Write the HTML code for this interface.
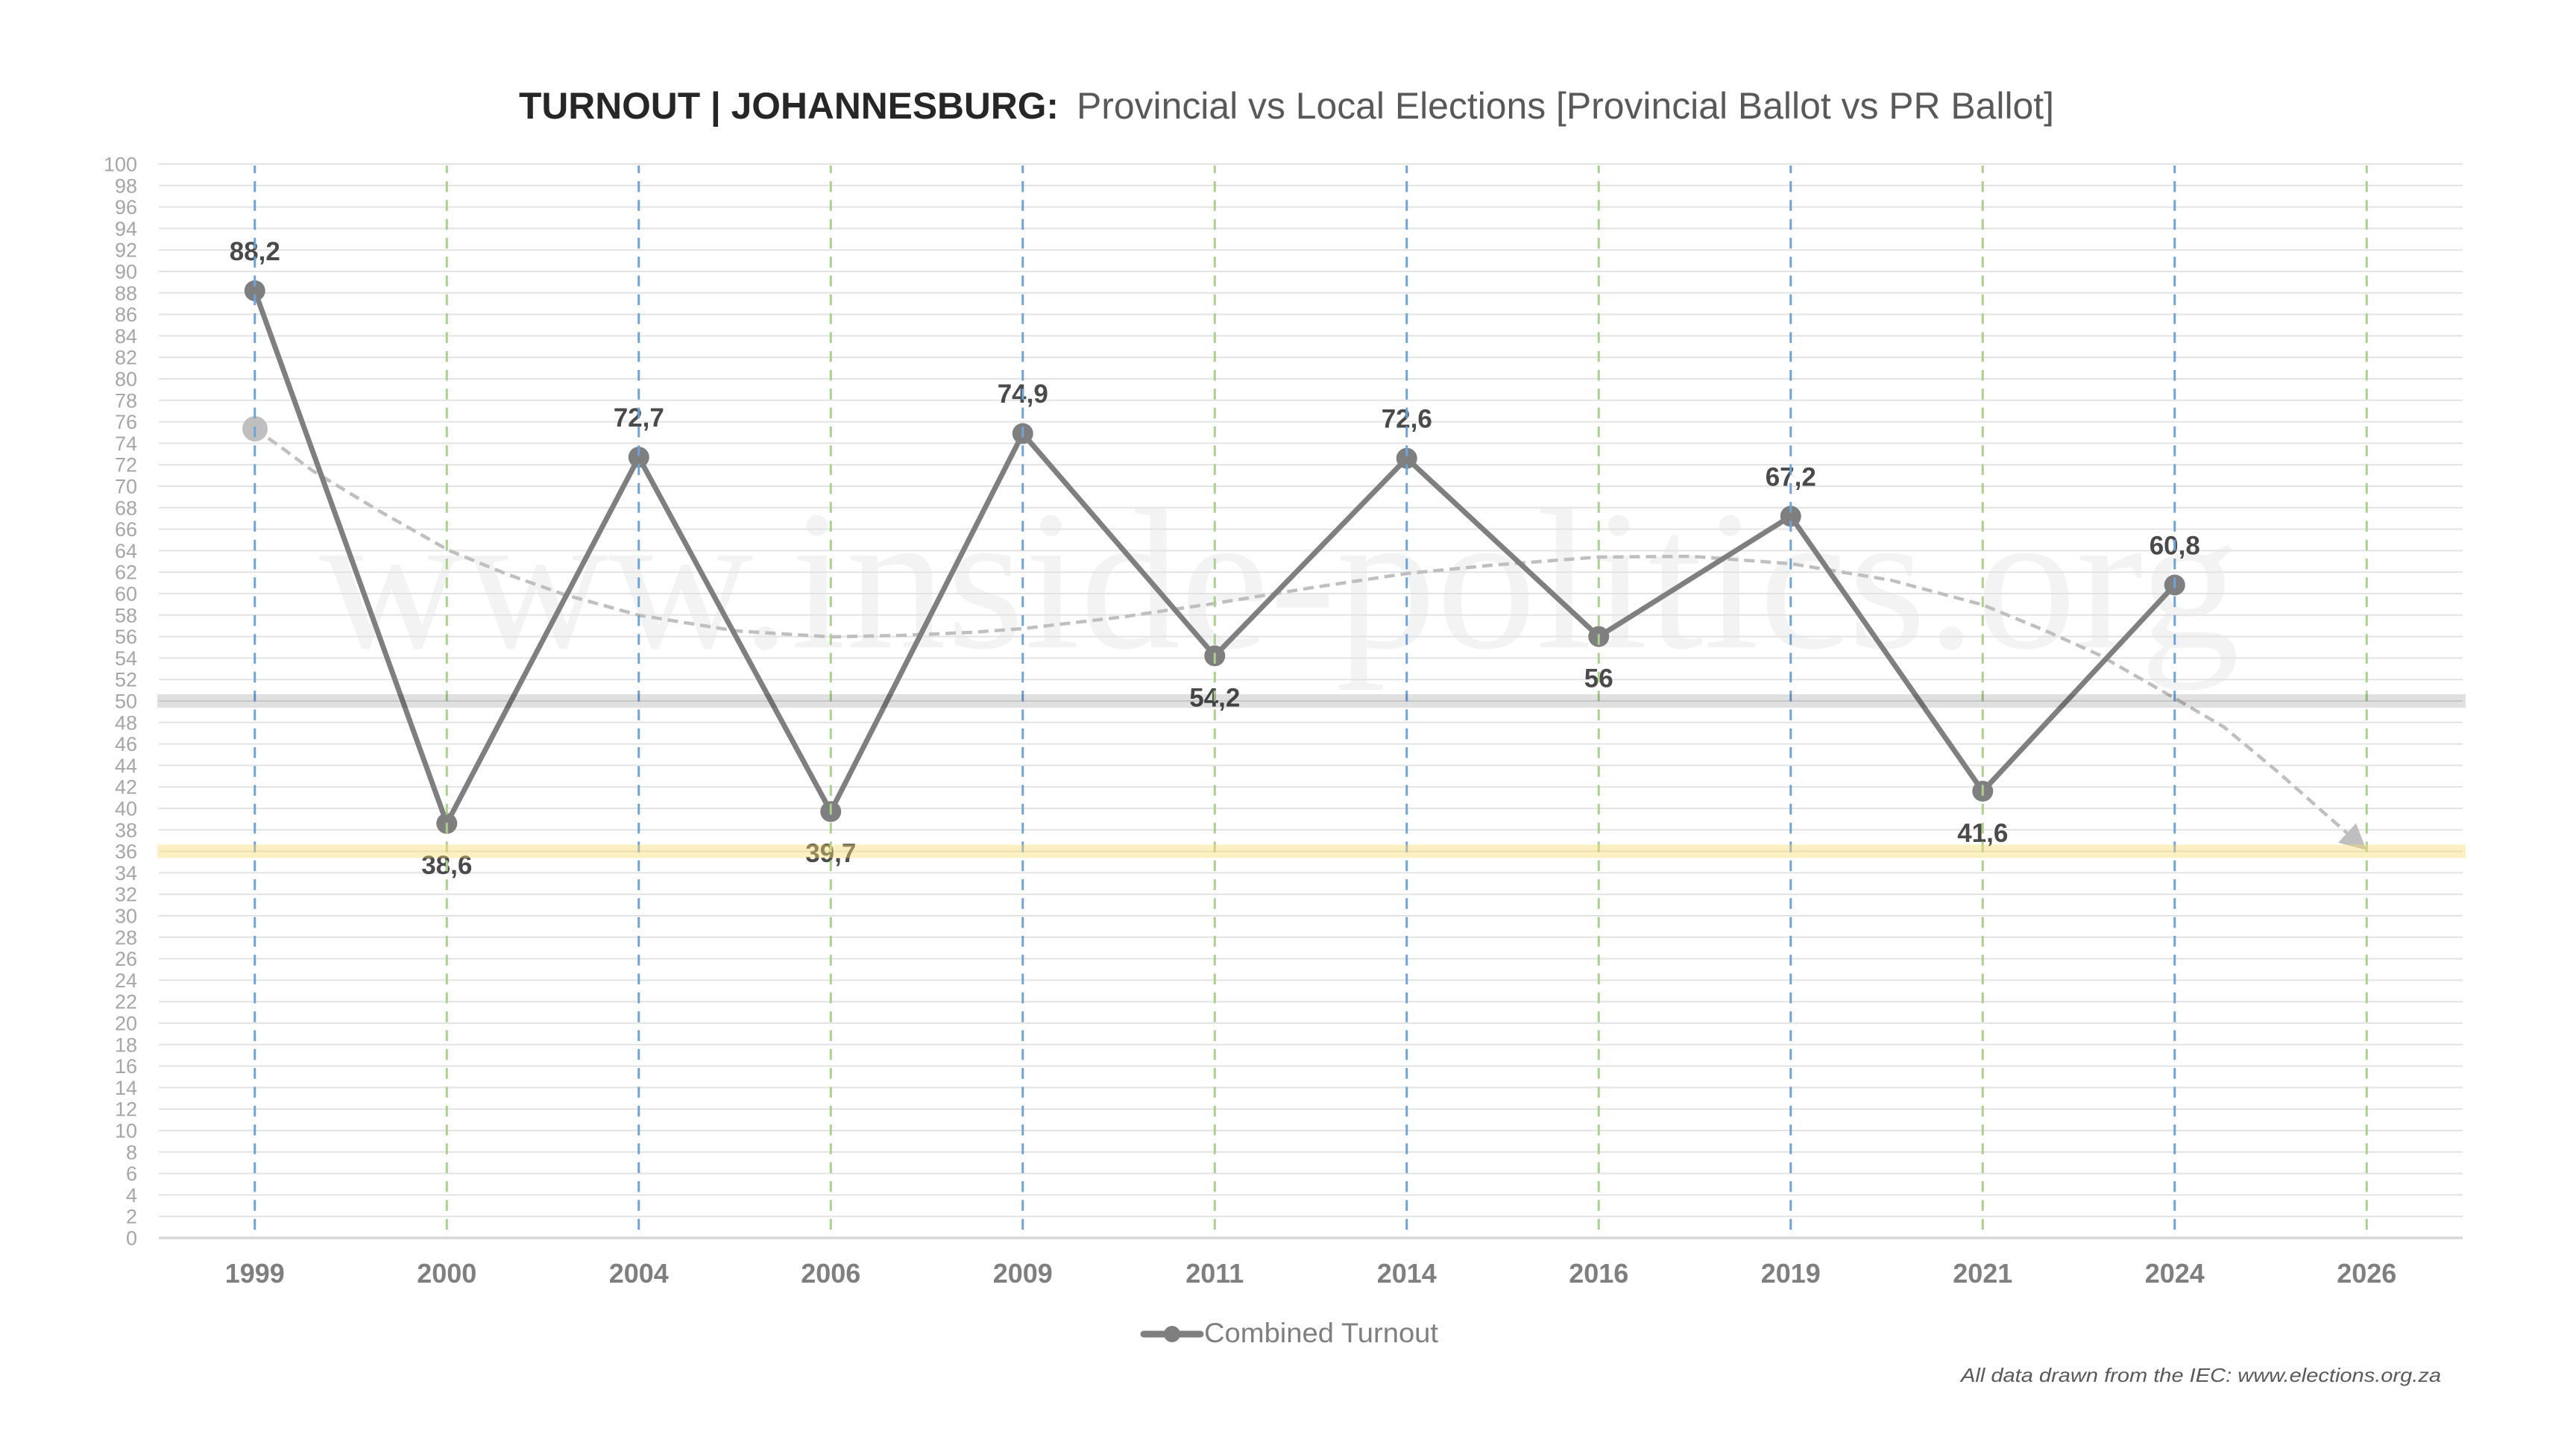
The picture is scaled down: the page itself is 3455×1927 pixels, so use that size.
<!DOCTYPE html>
<html><head><meta charset="utf-8">
<style>
html,body{margin:0;padding:0;background:#fff;}
svg{display:block;}
</style></head><body>
<svg width="3455" height="1927" viewBox="0 0 3455 1927" xmlns="http://www.w3.org/2000/svg">
<rect width="3455" height="1927" fill="#fff"/>

<!-- watermark -->
<text x="428" y="868" font-family="Liberation Serif, serif" font-size="268" fill="#F3F3F3" textLength="2576" lengthAdjust="spacingAndGlyphs">www.inside-politics.org</text>

<!-- title -->
<text x="696" y="159" font-family="Liberation Sans, sans-serif" font-weight="bold" font-size="50" fill="#262626" textLength="724" lengthAdjust="spacingAndGlyphs">TURNOUT | JOHANNESBURG:</text>
<text x="1444" y="159" font-family="Liberation Sans, sans-serif" font-size="50" fill="#595959" textLength="1311" lengthAdjust="spacingAndGlyphs">Provincial vs Local Elections [Provincial Ballot vs PR Ballot]</text>

<!-- gridlines -->
<g stroke="#E3E3E3" stroke-width="2">
<line x1="213" x2="3303" y1="1631.2" y2="1631.2"/>
<line x1="213" x2="3303" y1="1602.4" y2="1602.4"/>
<line x1="213" x2="3303" y1="1573.6" y2="1573.6"/>
<line x1="213" x2="3303" y1="1544.8" y2="1544.8"/>
<line x1="213" x2="3303" y1="1516" y2="1516"/>
<line x1="213" x2="3303" y1="1487.2" y2="1487.2"/>
<line x1="213" x2="3303" y1="1458.4" y2="1458.4"/>
<line x1="213" x2="3303" y1="1429.6" y2="1429.6"/>
<line x1="213" x2="3303" y1="1400.8" y2="1400.8"/>
<line x1="213" x2="3303" y1="1372" y2="1372"/>
<line x1="213" x2="3303" y1="1343.2" y2="1343.2"/>
<line x1="213" x2="3303" y1="1314.4" y2="1314.4"/>
<line x1="213" x2="3303" y1="1285.6" y2="1285.6"/>
<line x1="213" x2="3303" y1="1256.8" y2="1256.8"/>
<line x1="213" x2="3303" y1="1228" y2="1228"/>
<line x1="213" x2="3303" y1="1199.2" y2="1199.2"/>
<line x1="213" x2="3303" y1="1170.4" y2="1170.4"/>
<line x1="213" x2="3303" y1="1141.6" y2="1141.6"/>
<line x1="213" x2="3303" y1="1112.8" y2="1112.8"/>
<line x1="213" x2="3303" y1="1084" y2="1084"/>
<line x1="213" x2="3303" y1="1055.2" y2="1055.2"/>
<line x1="213" x2="3303" y1="1026.4" y2="1026.4"/>
<line x1="213" x2="3303" y1="997.6" y2="997.6"/>
<line x1="213" x2="3303" y1="968.8" y2="968.8"/>
<line x1="213" x2="3303" y1="940" y2="940"/>
<line x1="213" x2="3303" y1="911.2" y2="911.2"/>
<line x1="213" x2="3303" y1="882.4" y2="882.4"/>
<line x1="213" x2="3303" y1="853.6" y2="853.6"/>
<line x1="213" x2="3303" y1="824.8" y2="824.8"/>
<line x1="213" x2="3303" y1="796" y2="796"/>
<line x1="213" x2="3303" y1="767.2" y2="767.2"/>
<line x1="213" x2="3303" y1="738.4" y2="738.4"/>
<line x1="213" x2="3303" y1="709.6" y2="709.6"/>
<line x1="213" x2="3303" y1="680.8" y2="680.8"/>
<line x1="213" x2="3303" y1="652" y2="652"/>
<line x1="213" x2="3303" y1="623.2" y2="623.2"/>
<line x1="213" x2="3303" y1="594.4" y2="594.4"/>
<line x1="213" x2="3303" y1="565.6" y2="565.6"/>
<line x1="213" x2="3303" y1="536.8" y2="536.8"/>
<line x1="213" x2="3303" y1="508" y2="508"/>
<line x1="213" x2="3303" y1="479.2" y2="479.2"/>
<line x1="213" x2="3303" y1="450.4" y2="450.4"/>
<line x1="213" x2="3303" y1="421.6" y2="421.6"/>
<line x1="213" x2="3303" y1="392.8" y2="392.8"/>
<line x1="213" x2="3303" y1="364" y2="364"/>
<line x1="213" x2="3303" y1="335.2" y2="335.2"/>
<line x1="213" x2="3303" y1="306.4" y2="306.4"/>
<line x1="213" x2="3303" y1="277.6" y2="277.6"/>
<line x1="213" x2="3303" y1="248.8" y2="248.8"/>
<line x1="213" x2="3303" y1="220" y2="220"/>
</g>
<line x1="213" x2="3303" y1="1660" y2="1660" stroke="#D9D9D9" stroke-width="3.5"/>

<!-- y tick labels -->
<g font-family="Liberation Sans, sans-serif" font-size="27" fill="#A6A6A6" text-anchor="end">
<text x="184" y="1669.5">0</text>
<text x="184" y="1640.7">2</text>
<text x="184" y="1611.9">4</text>
<text x="184" y="1583.1">6</text>
<text x="184" y="1554.3">8</text>
<text x="184" y="1525.5">10</text>
<text x="184" y="1496.7">12</text>
<text x="184" y="1467.9">14</text>
<text x="184" y="1439.1">16</text>
<text x="184" y="1410.3">18</text>
<text x="184" y="1381.5">20</text>
<text x="184" y="1352.7">22</text>
<text x="184" y="1323.9">24</text>
<text x="184" y="1295.1">26</text>
<text x="184" y="1266.3">28</text>
<text x="184" y="1237.5">30</text>
<text x="184" y="1208.7">32</text>
<text x="184" y="1179.9">34</text>
<text x="184" y="1151.1">36</text>
<text x="184" y="1122.3">38</text>
<text x="184" y="1093.5">40</text>
<text x="184" y="1064.7">42</text>
<text x="184" y="1035.9">44</text>
<text x="184" y="1007.1">46</text>
<text x="184" y="978.3">48</text>
<text x="184" y="949.5">50</text>
<text x="184" y="920.7">52</text>
<text x="184" y="891.9">54</text>
<text x="184" y="863.1">56</text>
<text x="184" y="834.3">58</text>
<text x="184" y="805.5">60</text>
<text x="184" y="776.7">62</text>
<text x="184" y="747.9">64</text>
<text x="184" y="719.1">66</text>
<text x="184" y="690.3">68</text>
<text x="184" y="661.5">70</text>
<text x="184" y="632.7">72</text>
<text x="184" y="603.9">74</text>
<text x="184" y="575.1">76</text>
<text x="184" y="546.3">78</text>
<text x="184" y="517.5">80</text>
<text x="184" y="488.7">82</text>
<text x="184" y="459.9">84</text>
<text x="184" y="431.1">86</text>
<text x="184" y="402.3">88</text>
<text x="184" y="373.5">90</text>
<text x="184" y="344.7">92</text>
<text x="184" y="315.9">94</text>
<text x="184" y="287.1">96</text>
<text x="184" y="258.3">98</text>
<text x="184" y="229.5">100</text>
</g>

<!-- trend dashed curve -->
<polyline fill="none" stroke="#BFBFBF" stroke-width="4.5" stroke-dasharray="14 8" stroke-linejoin="round"
points="342,575 380,602 419,631 510,686 602,738 680,770 756,797 857,825 987,846 1114,854 1210,852 1303,848 1371,843 1500,828 1630,809 1760,788 1887,769 2000,758 2144,747 2268,746 2403,756 2536,778 2659,811 2744,846 2815,878 2918,937 2983,975 3055,1035 3126,1098 3148,1117"/>
<polygon points="3136,1130 3160,1104 3174,1140" fill="#BFBFBF"/>
<circle cx="342" cy="575" r="17" fill="#BFBFBF"/>

<!-- series -->
<polyline fill="none" stroke="#7F7F7F" stroke-width="7" stroke-linejoin="round"
points="341.75,389.9 599.25,1104.2 856.75,613.1 1114.25,1088.3 1371.75,581.4 1629.25,879.5 1886.75,614.6 2144.25,853.6 2401.75,692.3 2659.25,1061 2916.75,784.5"/>
<g fill="#7F7F7F">
<circle cx="341.75" cy="389.9" r="14"/>
<circle cx="599.25" cy="1104.2" r="14"/>
<circle cx="856.75" cy="613.1" r="14"/>
<circle cx="1114.25" cy="1088.3" r="14"/>
<circle cx="1371.75" cy="581.4" r="14"/>
<circle cx="1629.25" cy="879.5" r="14"/>
<circle cx="1886.75" cy="614.6" r="14"/>
<circle cx="2144.25" cy="853.6" r="14"/>
<circle cx="2401.75" cy="692.3" r="14"/>
<circle cx="2659.25" cy="1061" r="14"/>
<circle cx="2916.75" cy="784.5" r="14"/>
</g>

<!-- data labels -->
<g font-family="Liberation Sans, sans-serif" font-weight="bold" font-size="35" fill="#4A4A4A" text-anchor="middle">
<text x="341.75" y="349">88,2</text>
<text x="599.25" y="1172">38,6</text>
<text x="856.75" y="572">72,7</text>
<text x="1114.25" y="1156">39,7</text>
<text x="1371.75" y="540">74,9</text>
<text x="1629.25" y="947.5">54,2</text>
<text x="1886.75" y="573.6">72,6</text>
<text x="2144.25" y="921.6">56</text>
<text x="2401.75" y="651.3">67,2</text>
<text x="2659.25" y="1129">41,6</text>
<text x="2916.75" y="743.5">60,8</text>
</g>

<!-- vertical dashed lines -->
<g stroke-width="3" stroke-dasharray="14.5 10.8">
<line x1="341.75" x2="341.75" y1="1649" y2="222" stroke="#6EA3D8"/>
<line x1="599.25" x2="599.25" y1="1649" y2="222" stroke="#A9D18E"/>
<line x1="856.75" x2="856.75" y1="1649" y2="222" stroke="#6EA3D8"/>
<line x1="1114.25" x2="1114.25" y1="1649" y2="222" stroke="#A9D18E"/>
<line x1="1371.75" x2="1371.75" y1="1649" y2="222" stroke="#6EA3D8"/>
<line x1="1629.25" x2="1629.25" y1="1649" y2="222" stroke="#A9D18E"/>
<line x1="1886.75" x2="1886.75" y1="1649" y2="222" stroke="#6EA3D8"/>
<line x1="2144.25" x2="2144.25" y1="1649" y2="222" stroke="#A9D18E"/>
<line x1="2401.75" x2="2401.75" y1="1649" y2="222" stroke="#6EA3D8"/>
<line x1="2659.25" x2="2659.25" y1="1649" y2="222" stroke="#A9D18E"/>
<line x1="2916.75" x2="2916.75" y1="1649" y2="222" stroke="#6EA3D8"/>
<line x1="3174.25" x2="3174.25" y1="1649" y2="222" stroke="#A9D18E"/>
</g>

<!-- highlight bands -->
<rect x="211" y="931" width="3096" height="18" fill="#000" fill-opacity="0.12"/>
<rect x="211" y="1132.6" width="3096" height="18" fill="rgb(249,220,110)" fill-opacity="0.42"/>

<!-- x labels -->
<g font-family="Liberation Sans, sans-serif" font-weight="bold" font-size="36" fill="#7F7F7F" text-anchor="middle">
<text x="341.75" y="1720">1999</text>
<text x="599.25" y="1720">2000</text>
<text x="856.75" y="1720">2004</text>
<text x="1114.25" y="1720">2006</text>
<text x="1371.75" y="1720">2009</text>
<text x="1629.25" y="1720">2011</text>
<text x="1886.75" y="1720">2014</text>
<text x="2144.25" y="1720">2016</text>
<text x="2401.75" y="1720">2019</text>
<text x="2659.25" y="1720">2021</text>
<text x="2916.75" y="1720">2024</text>
<text x="3174.25" y="1720">2026</text>
</g>

<!-- legend -->
<line x1="1534" x2="1610" y1="1789" y2="1789" stroke="#7F7F7F" stroke-width="9" stroke-linecap="round"/>
<circle cx="1572" cy="1789" r="11" fill="#7F7F7F"/>
<text x="1615" y="1800" font-family="Liberation Sans, sans-serif" font-size="37" fill="#7F7F7F" textLength="314" lengthAdjust="spacingAndGlyphs">Combined Turnout</text>

<!-- footnote -->
<text x="2630" y="1853" font-family="Liberation Sans, sans-serif" font-style="italic" font-size="26" fill="#595959" textLength="644" lengthAdjust="spacingAndGlyphs">All data drawn from the IEC: www.elections.org.za</text>
</svg>
</body></html>
